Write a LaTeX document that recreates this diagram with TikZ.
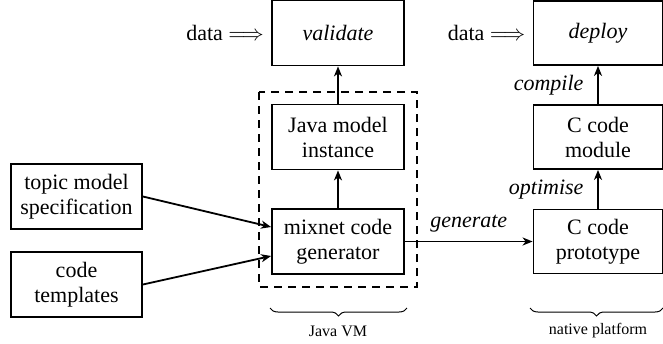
\documentclass[tikz,border=0pt]{standalone}
\usepackage{fontspec}
\setmainfont{Liberation Serif}
\usetikzlibrary{arrows.meta,decorations.pathreplacing}
\begin{document}
\begin{tikzpicture}[x=0.5pt,y=-0.5pt,
  box/.style={draw,line width=0.9pt,rectangle,align=center,inner sep=1pt,
    font=\fontsize{11}{12.5}\selectfont},
  lbox/.style={box,minimum width=66pt,minimum height=32.5pt},
  rbox/.style={box,minimum width=64.5pt,minimum height=32pt},
  arr/.style={line width=0.9pt,-{Stealth[length=5pt,width=4pt,inset=1.5pt]}},
  lab/.style={font=\fontsize{11}{12.5}\selectfont\itshape},
  txt/.style={font=\fontsize{11}{12.5}\selectfont},
  brc/.style={decorate,decoration={brace,mirror,amplitude=4pt},line width=0.5pt},
  small/.style={font=\fontsize{8}{9}\selectfont}]
\useasboundingbox (0,0) rectangle (663,343);
% left column nodes
\node[lbox] (validate) at (338,33) {\itshape validate};
\node[lbox] (java) at (338,137) {Java model\\instance};
\node[lbox] (mixnet) at (338,241.5) {mixnet code\\generator};
% right column nodes
\node[rbox] (deploy) at (598,33) {\itshape deploy};
\node[rbox] (module) at (598,137) {C code\\module};
\node[rbox] (proto) at (598,241.5) {C code\\prototype};
% input nodes
\node[lbox,minimum width=65.5pt] (topic) at (76.5,196.5) {topic model\\specification};
\node[lbox,minimum width=65.5pt] (templ) at (76.5,284.5) {code\\templates};
% data labels
\node[txt,anchor=east,inner sep=0pt] (d1) at ([xshift=-3.5pt]validate.west) {data $\Longrightarrow$};
\node[txt,anchor=east,inner sep=0pt] (d2) at ([xshift=-3.5pt]deploy.west) {data $\Longrightarrow$};
% dashed JVM box
\draw[dashed,line width=0.9pt,dash pattern=on 4pt off 3pt] (259,92) rectangle (417,287);
% connectors
\draw[arr] (java) -- (validate);
\draw[arr] (mixnet) -- (java);
\draw[arr] (topic.east) -- ([yshift=7.25pt]mixnet.west);
\draw[arr] (templ.east) -- ([yshift=-7.25pt]mixnet.west);
\draw[arr] (mixnet) -- node[lab,above=1pt] (gen) {generate} (proto);
\draw[arr] (proto) -- node[lab,left=3.5pt] (opt) {optimise} (module);
\draw[arr] (module) -- node[lab,left=3.5pt] (comp) {compile} (deploy);
% braces
\coordinate (b1s) at (270,308);
\coordinate (b1e) at (407,308);
\coordinate (b2s) at (530,308);
\coordinate (b2e) at (663,308);
\draw[brc] (b1s) -- (b1e);
\draw[brc] (b2s) -- (b2e);
\node[small] (jvm) at (338,331) {Java VM};
\node[small] (nat) at (598,331) {native platform};
\end{tikzpicture}
\end{document}
